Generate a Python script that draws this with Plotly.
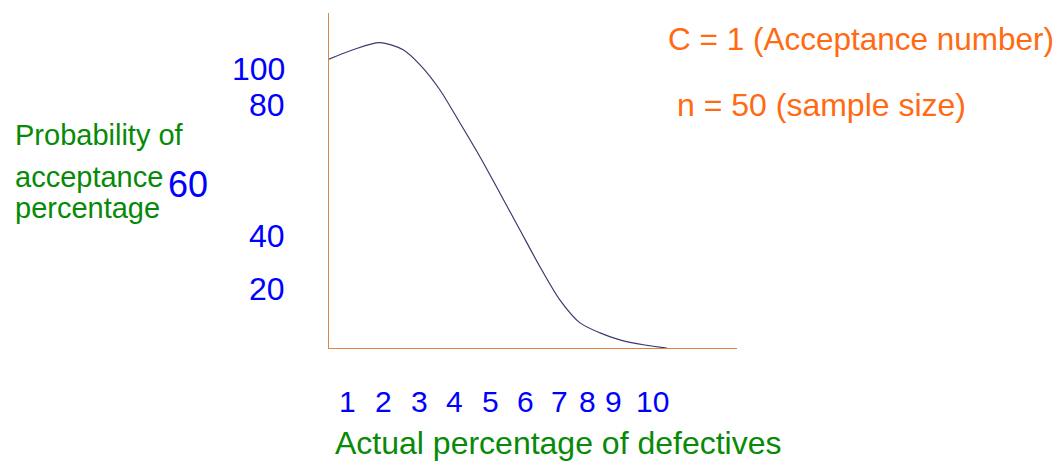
import plotly.graph_objects as go

# ---- data (curve) ----
defect_pct = [0.51, 1.19, 1.95, 2.61, 3.09, 3.65, 4.22, 4.79, 5.35, 5.92, 6.49, 7.05, 7.62, 8.19, 8.75, 9.46, 10.08]
accept_prob = [106.9, 110.4, 113.0, 110.4, 104.8, 95.6, 83.3, 70.7, 57.4, 43.7, 30.0, 17.8, 9.3, 5.6, 3.0, 1.1, 0.0]

x_tick_text = ["1", "2", "3", "4", "5", "6", "7", "8", "9", "10"]
y_tick_text = ["100", "80", "60", "40", "20"]

# ---- layout geometry (page pixels) ----
PAGE_OFF = 8  # default body margin of the html page
W, H = 1061 - 2 * PAGE_OFF, 465 - PAGE_OFF
L, R, T, B = 329, 737, 13, 348
x_tick_px = [347, 383, 419, 454, 490, 525, 559, 587, 613, 652]
x_tick_py = 401
y_tick_py = [69, 105, 184, 236, 289]
y_tick_px = [287, 287, 210, 287, 287]
y_tick_size = [32, 32, 36, 32, 32]

ORANGE = "#FF6A13"
GREEN = "#078A07"
BLUE = "#0000FF"
FONT = "Liberation Sans, Arial, sans-serif"


def px(x):
    return (x - L) / (R - L)


def py(y):
    return (B - y) / (B - T)


fig = go.Figure()
fig.add_trace(go.Scatter(
    x=defect_pct, y=accept_prob, mode="lines",
    line=dict(color="#3A3A70", width=1.2, shape="spline", smoothing=0.8),
    hoverinfo="skip", showlegend=False,
))

ann = []
for t, xp in zip(x_tick_text, x_tick_px):
    ann.append(dict(text=t, x=px(xp), y=py(x_tick_py), xref="paper", yref="paper",
                    xanchor="center", yanchor="middle", showarrow=False,
                    font=dict(family=FONT, size=30, color=BLUE)))
for t, xp, yp, s in zip(y_tick_text, y_tick_px, y_tick_py, y_tick_size):
    ann.append(dict(text=t, x=px(xp), y=py(yp), xref="paper", yref="paper",
                    xanchor="right", yanchor="middle", showarrow=False,
                    font=dict(family=FONT, size=s, color=BLUE)))

texts = [
    ("C = 1 (Acceptance number)", 666, 39, ORANGE, 31.5),
    ("n = 50 (sample size)", 675, 105, ORANGE, 32),
    ("Actual percentage of defectives", 333, 443, GREEN, 32),
    ("Probability of", 13, 135, GREEN, 29),
    ("acceptance", 13, 177, GREEN, 29),
    ("percentage", 13, 208, GREEN, 29),
]
for t, xp, yp, c, s in texts:
    ann.append(dict(text=t, x=px(xp), y=py(yp), xref="paper", yref="paper",
                    xanchor="left", yanchor="middle", showarrow=False,
                    font=dict(family=FONT, size=s, color=c)))

fig.update_layout(
    width=W, height=H,
    margin=dict(l=L - PAGE_OFF, r=W - (R - PAGE_OFF), t=T - PAGE_OFF,
                b=H - (B - PAGE_OFF), pad=0),
    paper_bgcolor="white", plot_bgcolor="white",
    annotations=ann,
    xaxis=dict(range=[0.51, 12.07], showgrid=False, zeroline=False,
               showticklabels=False, ticks="", showline=True,
               linecolor="#E8803A", linewidth=1.2, fixedrange=True),
    yaxis=dict(range=[0, 124], showgrid=False, zeroline=False,
               showticklabels=False, ticks="", showline=True,
               linecolor="#D08A4A", linewidth=1.2, fixedrange=True),
)

fig.write_html("out.html", config={"displayModeBar": False})
